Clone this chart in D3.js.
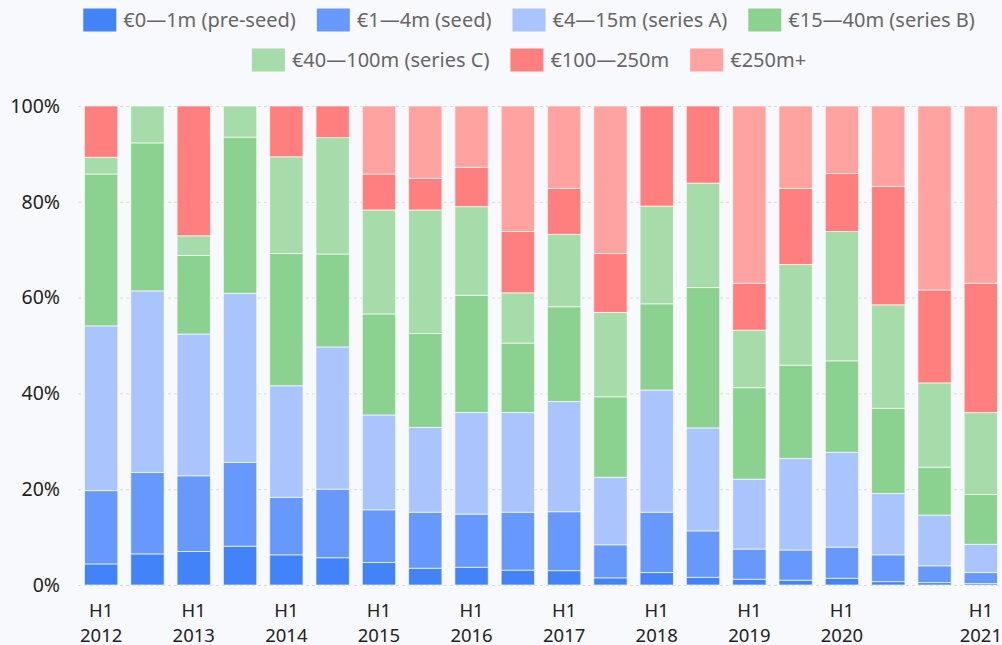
<!DOCTYPE html>
<html>
<head>
<meta charset="utf-8">
<script src="https://cdn.jsdelivr.net/npm/d3@7"></script>
<style>
  html, body { margin: 0; padding: 0; background: #f8f9fc; }
  svg { display: block; }
  text { font-family: "Noto Sans", "Open Sans", sans-serif; }
</style>
</head>
<body>
<svg id="chart" width="1002" height="645"></svg>
<script>
// Half-year periods (funding round share of total capital, %)
const categories = [
  "H1 2012", "H2 2012", "H1 2013", "H2 2013", "H1 2014", "H2 2014",
  "H1 2015", "H2 2015", "H1 2016", "H2 2016", "H1 2017", "H2 2017",
  "H1 2018", "H2 2018", "H1 2019", "H2 2019", "H1 2020", "H2 2020",
  "P19", "P20"
];

// Axis labels and the period index they sit under
const tickLabels = ["H1 2012", "H1 2013", "H1 2014", "H1 2015", "H1 2016", "H1 2017", "H1 2018", "H1 2019", "H1 2020", "H1 2021"];
const tickIndex  = [0, 2, 4, 6, 8, 10, 12, 14, 16, 19];

const yTicks = [0, 20, 40, 60, 80, 100];

const seriesNames = [
  "€0—1m (pre-seed)", "€1—4m (seed)", "€4—15m (series A)", "€15—40m (series B)",
  "€40—100m (series C)", "€100—250m", "€250m+"
];
const seriesColors = ["#4283f9", "#6699fb", "#aac5fd", "#8bd190", "#a6dca9", "#ff7f7e", "#ffa2a0"];

// Shares per round size (%), bottom to top
const preSeed = [4.4, 6.5, 7.0, 8.1, 6.3, 5.7, 4.7, 3.5, 3.7, 3.1, 3.0, 1.5, 2.6, 1.6, 1.2, 1.0, 1.4, 0.7, 0.5, 0.3];
const seed    = [15.3, 17.0, 15.8, 17.5, 12.0, 14.3, 11.0, 11.7, 11.1, 12.1, 12.3, 6.9, 12.6, 9.7, 6.3, 6.3, 6.5, 5.6, 3.5, 2.3];
const seriesA = [34.4, 37.9, 29.6, 35.3, 23.3, 29.7, 19.8, 17.7, 21.2, 20.8, 23.0, 14.1, 25.5, 21.5, 14.6, 19.1, 19.8, 12.8, 10.6, 5.9];
const seriesB = [31.7, 30.9, 16.4, 32.6, 27.6, 19.4, 21.1, 19.6, 24.5, 14.5, 19.8, 16.8, 18.0, 29.3, 19.1, 19.5, 19.1, 17.8, 10.0, 10.4];
const seriesC = [3.5, 7.7, 4.1, 6.5, 20.2, 24.3, 21.7, 25.8, 18.5, 10.5, 15.1, 17.6, 20.4, 21.8, 12.0, 21.0, 27.0, 21.6, 17.6, 17.1];
const mega100 = [10.7, 0, 27.1, 0, 10.6, 6.6, 7.5, 6.6, 8.2, 12.8, 9.6, 12.3, 20.9, 16.1, 9.8, 15.9, 12.1, 24.7, 19.4, 27.0];
const mega250 = [0, 0, 0, 0, 0, 0, 14.2, 15.1, 12.8, 26.2, 17.2, 30.8, 0, 0, 37.0, 17.2, 14.1, 16.8, 38.4, 37.0];

const seriesValues = [preSeed, seed, seriesA, seriesB, seriesC, mega100, mega250];

const rows = categories.map((c, i) => {
  const r = { period: c };
  seriesNames.forEach((s, k) => { r[s] = seriesValues[k][i]; });
  return r;
});

const svg = d3.select("#chart");
const margin = { left: 78, right: -2, top: 106, bottom: 60 };
const W = 1002, H = 645;

const x = d3.scaleBand()
  .domain(categories)
  .range([margin.left, W - margin.right])
  .paddingInner(0.28)
  .paddingOuter(0.14);

const y = d3.scaleLinear()
  .domain([0, 100])
  .range([H - margin.bottom, margin.top]);

// Gridlines
svg.append("g")
  .selectAll("line")
  .data(yTicks)
  .join("line")
  .attr("x1", margin.left)
  .attr("x2", W)
  .attr("y1", d => y(d) + 0.5)
  .attr("y2", d => y(d) + 0.5)
  .attr("stroke", "#d9dbe0")
  .attr("stroke-width", 1)
  .attr("stroke-dasharray", "3,3");

// Y axis labels
const yAxis = d3.axisLeft(y).tickValues(yTicks).tickFormat(d => d + "%").tickSize(0).tickPadding(0);
const yg = svg.append("g")
  .attr("transform", `translate(${margin.left - 18},0)`)
  .call(yAxis);
yg.select(".domain").remove();
yg.selectAll("text")
  .attr("fill", "#222")
  .style("font-size", "19.5px")
  .style("font-family", "'Noto Sans', sans-serif");

// Stacked bars
const stack = d3.stack().keys(seriesNames);
const layers = stack(rows);

svg.append("g")
  .selectAll("g")
  .data(layers)
  .join("g")
  .attr("fill", (d, i) => seriesColors[i])
  .selectAll("rect")
  .data(d => d.filter(p => p[1] - p[0] > 0))
  .join("rect")
  .attr("x", d => x(d.data.period))
  .attr("width", x.bandwidth())
  .attr("y", d => y(d[1]))
  .attr("height", d => y(d[0]) - y(d[1]))
  .attr("stroke", "rgba(255,255,255,0.65)")
  .attr("stroke-width", 1);

// X axis labels (two lines)
const xg = svg.append("g");
const tickData = tickLabels.map((t, k) => ({ text: t, cat: categories[tickIndex[k]] }));
const xt = xg.selectAll("text")
  .data(tickData)
  .join("text")
  .attr("text-anchor", "middle")
  .attr("fill", "#222")
  .style("font-size", "18.5px")
  .attr("transform", d => `translate(${x(d.cat) + x.bandwidth() / 2},0)`);
xt.append("tspan").attr("x", 0).attr("y", 617).text(d => d.text.split(" ")[0]);
xt.append("tspan").attr("x", 0).attr("y", 642).text(d => d.text.split(" ")[1]);

// Legend (two centered rows)
const legendRows = [[0, 1, 2, 3], [4, 5, 6]];
const rowY = [20, 60];
const sw = 33, sh = 23, gapText = 7, gapItem = 21;
const legend = svg.append("g");
legendRows.forEach((idxs, r) => {
  const g = legend.append("g");
  let cx = 0;
  idxs.forEach(i => {
    const it = g.append("g").attr("transform", `translate(${cx},0)`);
    it.append("rect")
      .attr("x", 0).attr("y", rowY[r] - sh / 2)
      .attr("width", sw).attr("height", sh)
      .attr("fill", seriesColors[i]);
    const t = it.append("text")
      .attr("x", sw + gapText).attr("y", rowY[r])
      .attr("dy", "0.35em")
      .attr("fill", "#666")
      .style("font-size", "20px")
      .text(seriesNames[i]);
    cx += sw + gapText + t.node().getComputedTextLength() + gapItem;
  });
  const total = cx - gapItem;
  g.attr("transform", `translate(${529 - total / 2},0)`);
});
</script>
</body>
</html>
